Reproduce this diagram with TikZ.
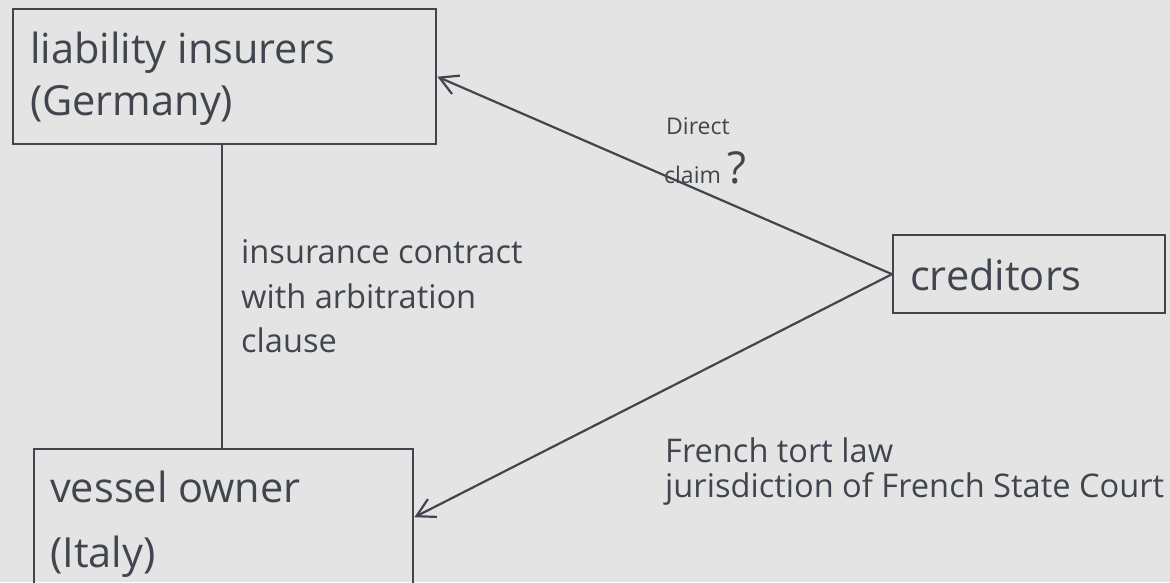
\documentclass[tikz,border=0pt]{standalone}
\usepackage{fontspec}
\setmainfont{Open Sans}
\usetikzlibrary{arrows.meta}
\definecolor{bg}{HTML}{E4E4E4}
\definecolor{ink}{HTML}{40454E}
\begin{document}
\begin{tikzpicture}[x=1pt,y=-1pt,
  box/.style={draw=ink, line width=2.4pt, rectangle, inner sep=0pt, anchor=north west},
  lbl/.style={text=ink, inner sep=0pt, anchor=base west},
  big/.style={lbl, font=\fontsize{41.5}{41.5}\selectfont},
  mid/.style={lbl, font=\fontsize{32.6}{32.6}\selectfont},
  sml/.style={lbl, font=\fontsize{23}{23}\selectfont},
  conn/.style={draw=ink, line width=2.2pt},
  arr/.style={conn, -{Straight Barb[length=18pt,width=20pt,line width=2.2pt]}}]
\useasboundingbox (0,0) rectangle (1170,582);
\fill[bg] (0,0) rectangle (1170,582);
\clip (0,0) rectangle (1170,582);

% boxes
\node[box, minimum width=423pt, minimum height=135pt] (ins) at (12,8) {};
\node[box, minimum width=379pt, minimum height=136pt] (own) at (33,448) {};
\node[box, minimum width=272pt, minimum height=78pt] (cred) at (892,234) {};

% box texts
\node[big] (t1) at (30,63) {liability insurers};
\node[big] (t2) at (30,115) {(Germany)};
\node[big] (t3) at (50,502) {vessel owner};
\node[big] (t4) at (50,567) {(Italy)};
\node[big] (t5) at (910,290) {creditors};

% connectors
\coordinate (vx) at (222,0);
\draw[conn] (ins.south -| vx) -- (own.north -| vx);
\draw[arr] (cred.west) -- (ins.east);
\draw[arr] (cred.west) -- (own.east);

% labels
\node[mid] (l1) at (241,263) {insurance contract};
\node[mid] (l2) at (241,308) {with arbitration};
\node[mid] (l3) at (241,352) {clause};
\node[mid] (l4) at (665,462) {French tort law};
\node[mid] (l5) at (665,497) {jurisdiction of French State Court};
\node[sml] (d1) at (666,134) {Direct};
\node[sml] (d2) at (664,183) {claim\hspace{7pt}{\fontsize{44}{44}\selectfont ?}};
\end{tikzpicture}
\end{document}
